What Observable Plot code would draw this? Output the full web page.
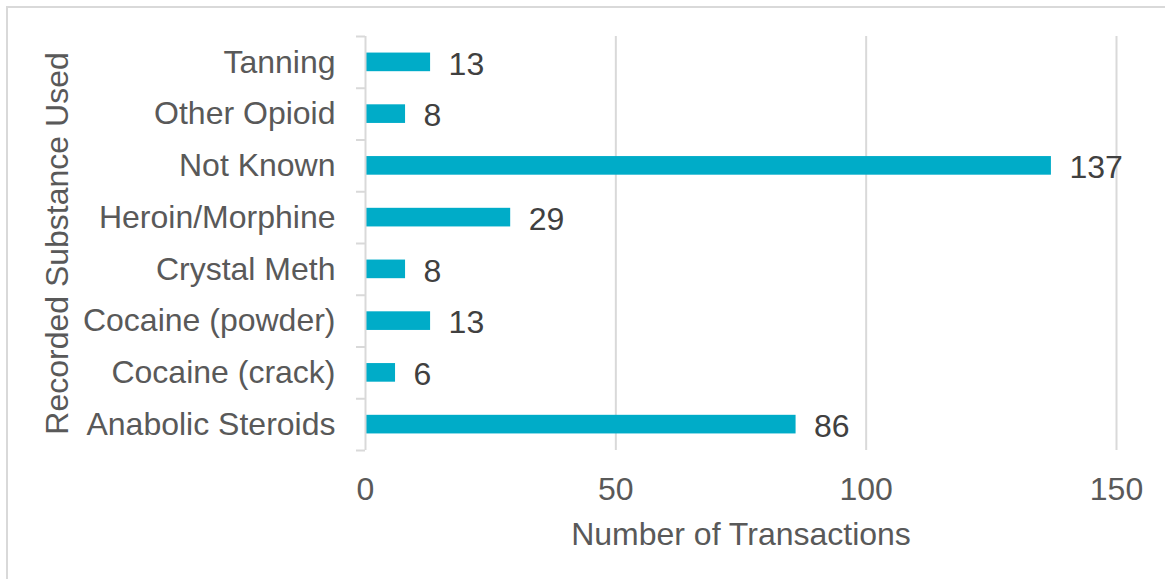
<!DOCTYPE html>
<html><head><meta charset="utf-8">
<script src="https://cdn.jsdelivr.net/npm/d3@7"></script>
<script src="https://cdn.jsdelivr.net/npm/@observablehq/plot@0.6"></script>
<style>
html,body{margin:0;padding:0;background:#fff;overflow:hidden}
#wrap{position:relative;width:1165px;height:579px;}
#frame{position:absolute;left:6px;top:6px;width:1200px;height:600px;border:2px solid #d9d9d9;pointer-events:none;}
#wrap svg{position:absolute;left:0;top:0;}
</style></head><body>
<div id="wrap"><div id="frame"></div></div>
<script>
const categories = ["Tanning", "Other Opioid", "Not Known", "Heroin/Morphine", "Crystal Meth", "Cocaine (powder)", "Cocaine (crack)", "Anabolic Steroids"];
const values = [13, 8, 137, 29, 8, 13, 6, 86];
const xTicks = [0, 50, 100, 150];
const xTitle = "Number of Transactions";
const yTitle = "Recorded Substance Used";

const data = categories.map((c, i) => ({category: c, value: values[i]}));
const W = 1165, H = 579, mt = 36, mb = 129, ml = 365, mr = 49;
const step = (H - mt - mb) / categories.length;
const grid = "#d9d9d9";
const fs = 32;

const chart = Plot.plot({
  width: W, height: H,
  marginTop: mt, marginBottom: mb, marginLeft: ml, marginRight: mr,
  style: {fontFamily: "'Liberation Sans', Arial, sans-serif", fontSize: fs + "px", color: "#595959", background: "transparent", overflow: "visible"},
  x: {domain: [xTicks[0], xTicks[xTicks.length - 1]]},
  y: {domain: categories, paddingInner: 0.64, paddingOuter: 0.32, round: false},
  marks: [
    Plot.gridX(xTicks.filter(t => t > 0), {stroke: grid, strokeOpacity: 1, strokeWidth: 2}),
    Plot.axisY({ticks: categories, tickSize: 9, fill: "none", stroke: grid, strokeOpacity: 1, strokeWidth: 2, dy: -step / 2}),
    Plot.axisY({ticks: [categories[categories.length - 1]], tickSize: 9, fill: "none", stroke: grid, strokeOpacity: 1, strokeWidth: 2, dy: step / 2}),
    Plot.axisY({tickSize: 0, tickPadding: 30, fontSize: fs, fill: "#595959", label: yTitle, labelAnchor: "center", labelOffset: 320, labelArrow: "none"}),
    Plot.axisX({ticks: xTicks, tickSize: 0, tickPadding: 26.5, fontSize: fs, fill: "#595959", label: xTitle, labelAnchor: "center", labelOffset: 94, labelArrow: "none"}),
    Plot.barX(data, {y: "category", x: "value", fill: "#00ACC8"}),
    Plot.ruleX([0], {stroke: grid, strokeWidth: 2}),
    Plot.text(data, {y: "category", x: "value", text: d => String(d.value), textAnchor: "start", dx: 18, dy: 2, fill: "#404040", fontSize: fs})
  ]
});
document.getElementById("wrap").appendChild(chart);
</script>
</body></html>
